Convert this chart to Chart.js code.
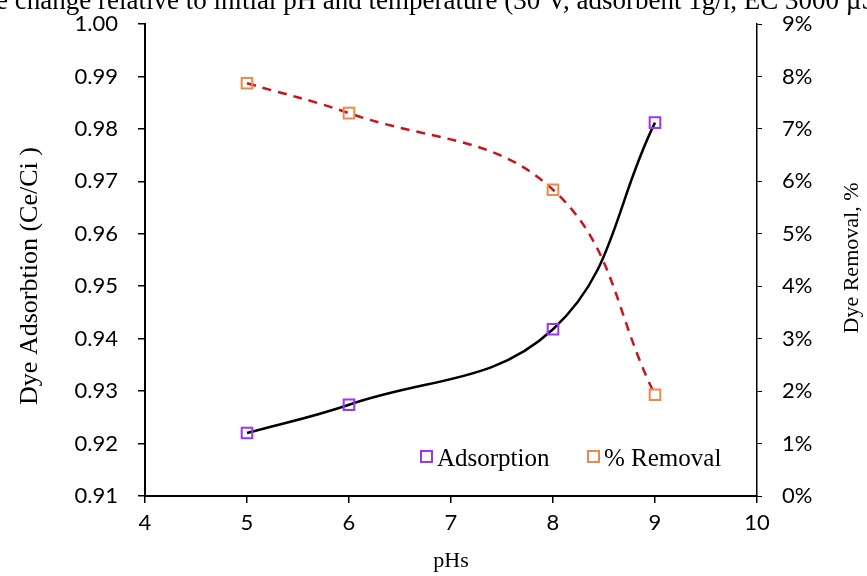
<!DOCTYPE html>
<html>
<head>
<meta charset="utf-8">
<script src="https://cdn.jsdelivr.net/npm/chart.js@4.4.1/dist/chart.umd.min.js"></script>
<style>
  html, body { margin: 0; padding: 0; background: #fff; }
  #wrap { width: 867px; height: 576px; position: relative; }
</style>
</head>
<body>
<div id="wrap"><canvas id="chart" width="867" height="576"></canvas></div>
<script>
// values
const phValues = [5, 6, 8, 9];
const adsorption = [0.922, 0.9274, 0.9418, 0.9812];
const removal = [7.87, 7.3, 5.84, 1.93];
const seriesNames = ["Adsorption", "% Removal"];
const leftTitle = "Dye Adsorbtion (Ce/Ci )";
const rightTitle = "Dye Removal, %";
const captionText = "e change relative to initial pH and temperature (30 V, adsorbent 1g/l, EC 3000 \u00B5S/cm)";

const tickFont = { family: "Lato, 'Open Sans', sans-serif", size: 22 };
const serif = "'Liberation Serif', 'DejaVu Serif', serif";

function toPoints(xs, ys) {
    return xs.map((x, i) => ({ x: x, y: ys[i] }));
}

function drawUpText(ctx, text, x, y, size) {
    ctx.save();
    ctx.translate(x, y);
    ctx.rotate(-Math.PI / 2);
    ctx.font = size + "px " + serif;
    ctx.textAlign = "center";
    ctx.textBaseline = "middle";
    ctx.fillText(text, 0, 0);
    ctx.restore();
}

// caption cut off at the top, both axis titles and the legend inside the plot
const extrasPlugin = {
    id: "extras",
    afterDraw(chart) {
        const ctx = chart.ctx;
        const area = chart.chartArea;
        ctx.save();
        ctx.fillStyle = "#000";
        ctx.font = "27px " + serif;
        ctx.textBaseline = "alphabetic";
        ctx.textAlign = "left";
        ctx.fillText(captionText, -4, 9);

        drawUpText(ctx, leftTitle, 30, 276, 26);
        drawUpText(ctx, rightTitle, 852, 258, 22);

        const items = [
            { label: seriesNames[0], color: "#9933ff", x: area.left + 276 },
            { label: seriesNames[1], color: "#f0884a", x: area.left + 443 }
        ];
        const y = area.bottom - 39;
        items.forEach(it => {
            ctx.strokeStyle = it.color;
            ctx.lineWidth = 2;
            ctx.strokeRect(it.x, y - 6, 11, 11);
            ctx.fillStyle = "#000";
            ctx.font = "25px " + serif;
            ctx.textAlign = "left";
            ctx.textBaseline = "middle";
            ctx.fillText(it.label, it.x + 16, y + 2);
        });
        ctx.restore();
    }
};

function noOverhang(scale) {
    scale.paddingTop = 0;
    scale.paddingBottom = 0;
}

const ctx = document.getElementById("chart");
const myChart = new Chart(ctx, {
    type: "line",
    data: {
        datasets: [{
            label: seriesNames[0],
            data: toPoints(phValues, adsorption),
            yAxisID: "y",
            borderColor: "#000",
            borderWidth: 2.5,
            tension: 0.4,
            pointStyle: "rect",
            pointRadius: 7.5,
            pointBorderWidth: 2,
            pointBorderColor: "#9933ff",
            pointBackgroundColor: "rgba(255,255,255,0)"
        }, {
            label: seriesNames[1],
            data: toPoints(phValues, removal),
            yAxisID: "y1",
            borderColor: "#c8141c",
            borderWidth: 2.5,
            borderDash: [9, 7],
            tension: 0.4,
            pointStyle: "rect",
            pointRadius: 7.5,
            pointBorderWidth: 2,
            pointBorderColor: "#f0884a",
            pointBackgroundColor: "rgba(255,255,255,0)"
        }]
    },
    options: {
        responsive: false,
        animation: false,
        layout: { padding: { top: 24, left: 0, right: 0, bottom: 0 } },
        plugins: {
            legend: { display: false },
            tooltip: { enabled: false }
        },
        scales: {
            x: {
                type: "linear",
                min: 4,
                max: 10,
                ticks: { stepSize: 1, color: "#000", font: tickFont, padding: 7 },
                grid: { drawOnChartArea: false, color: "#000", tickLength: 7, lineWidth: 1.5 },
                border: { color: "#000", width: 2 },
                title: { display: true, text: "pHs", color: "#000", font: { family: serif, size: 22 }, padding: { top: 0, bottom: 2 } },
                afterFit(scale) { scale.height = 80; scale.paddingLeft = 0; scale.paddingRight = 0; }
            },
            y: {
                position: "left",
                min: 0.91,
                max: 1.0,
                ticks: {
                    stepSize: 0.01,
                    color: "#000",
                    font: tickFont,
                    padding: 20,
                    callback: v => v.toFixed(2)
                },
                grid: { drawOnChartArea: false, color: "#000", tickLength: 7, lineWidth: 1.5 },
                border: { color: "#000", width: 2 },
                afterFit(scale) { scale.width = 145; noOverhang(scale); }
            },
            y1: {
                position: "right",
                min: 0,
                max: 9,
                ticks: {
                    stepSize: 1,
                    color: "#000",
                    font: tickFont,
                    padding: 20,
                    callback: v => v + "%"
                },
                grid: { drawOnChartArea: false, color: "#000", tickLength: 5, lineWidth: 1 },
                border: { color: "#000", width: 1.5, dash: [4, 3] },
                afterFit(scale) { scale.width = 110; noOverhang(scale); }
            }
        }
    },
    plugins: [extrasPlugin]
});
</script>
</body>
</html>
